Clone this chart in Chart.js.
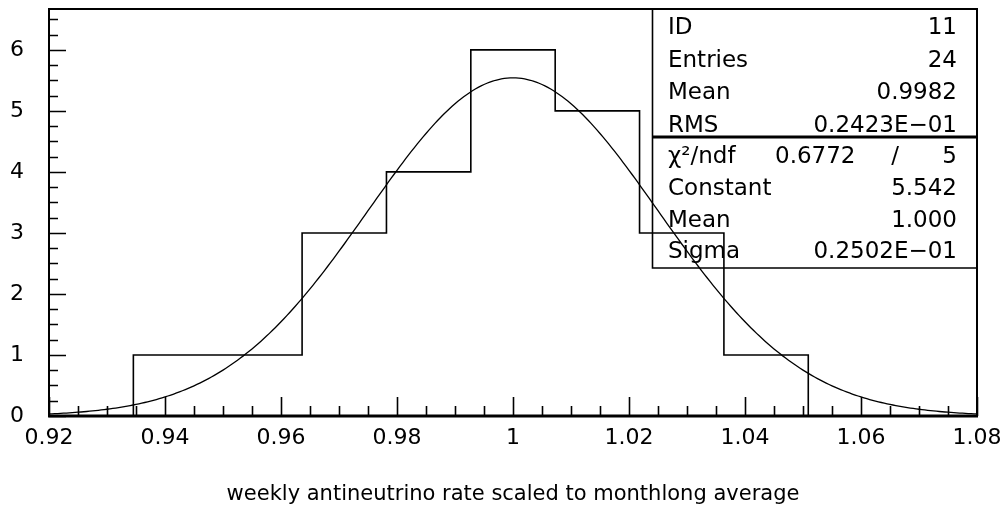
<!DOCTYPE html>
<html>
<head>
<meta charset="utf-8">
<script src="https://cdn.jsdelivr.net/npm/chart.js@4.4.1/dist/chart.umd.min.js"></script>
<style>
  html, body { margin: 0; padding: 0; background: #ffffff; }
  #wrap { position: relative; width: 1008px; height: 507px; }
</style>
</head>
<body>
<div id="wrap"><canvas id="hist"></canvas></div>
<script>
// Histogram 11: weekly antineutrino rate scaled to the monthlong average
const histLow = 0.92;
const histHigh = 1.08;
const nBins = 11;
const binCounts = [0, 1, 1, 3, 4, 6, 5, 3, 1, 0, 0];

// Gaussian fit parameters
const fitConstant = 5.542;
const fitMean = 1.000;
const fitSigma = 0.02502;

// Axis tick labels
const xTickValues = [0.92, 0.94, 0.96, 0.98, 1.00, 1.02, 1.04, 1.06, 1.08];
const yTickValues = [0, 1, 2, 3, 4, 5, 6];
const xMinorStep = 0.005;
const yMinorStep = 0.25;
const yTop = 6.67;

// Statistics box
const statsRows = [["ID", "11"], ["Entries", "24"], ["Mean", "0.9982"], ["RMS", "0.2423E\u221201"]];
const chiRow = ["\u03C7\u00B2/ndf", "0.6772", "/", "5"];
const fitRows = [["Constant", "5.542"], ["Mean", "1.000"], ["Sigma", "0.2502E\u221201"]];

const xTitle = "weekly antineutrino rate scaled to monthlong average";

const FONT = "'DejaVu Sans', 'Liberation Sans', sans-serif";

// step outline of the histogram: left edge of each bin, then the upper edge
const binWidth = (histHigh - histLow) / nBins;
const histPoints = binCounts.map((c, i) => ({ x: histLow + i * binWidth, y: c }));
histPoints.push({ x: histHigh, y: 0 });

// fitted gaussian sampled across the axis range
const curvePoints = [];
const nSamples = 320;
for (let i = 0; i <= nSamples; i++) {
  const x = histLow + (histHigh - histLow) * i / nSamples;
  const z = (x - fitMean) / fitSigma;
  curvePoints.push({ x: x, y: fitConstant * Math.exp(-0.5 * z * z) });
}

const framePlugin = {
  id: 'frameAndStats',
  afterDatasetsDraw(chart) {
    const ctx = chart.ctx;
    const a = chart.chartArea;
    const xs = chart.scales.x, ys = chart.scales.y;
    ctx.save();
    ctx.strokeStyle = '#000';
    ctx.lineCap = 'butt';

    // inward tick marks on the x axis
    ctx.lineWidth = 1.6;
    ctx.beginPath();
    const nx = Math.round((histHigh - histLow) / xMinorStep);
    for (let i = 0; i <= nx; i++) {
      const v = histLow + i * xMinorStep;
      const px = Math.round(xs.getPixelForValue(v)) + 0.5;
      const len = (i % 4 === 0) ? 19 : 10;
      ctx.moveTo(px, a.bottom);
      ctx.lineTo(px, a.bottom - len);
    }
    // inward tick marks on the y axis
    const ny = Math.floor(yTop / yMinorStep + 1e-9);
    for (let i = 0; i <= ny; i++) {
      const v = i * yMinorStep;
      const py = Math.round(ys.getPixelForValue(v)) + 0.5;
      const len = (i % 4 === 0) ? 17 : 9;
      ctx.moveTo(a.left, py);
      ctx.lineTo(a.left + len, py);
    }
    ctx.stroke();

    // frame
    ctx.lineWidth = 2;
    ctx.strokeRect(a.left, a.top, a.right - a.left, a.bottom - a.top);
    ctx.lineWidth = 3;
    ctx.beginPath();
    ctx.moveTo(a.left - 1, a.bottom);
    ctx.lineTo(a.right + 1, a.bottom);
    ctx.stroke();

    // statistics box
    const bl = 652.5, br = a.right, bt = a.top, bm = 137, bb = 268;
    ctx.lineWidth = 1.6;
    ctx.beginPath();
    ctx.moveTo(bl, bt); ctx.lineTo(bl, bb); ctx.lineTo(br, bb);
    ctx.stroke();
    ctx.lineWidth = 3;
    ctx.beginPath();
    ctx.moveTo(bl, bm); ctx.lineTo(br, bm);
    ctx.stroke();

    ctx.fillStyle = '#000';
    ctx.font = '23px ' + FONT;
    ctx.textBaseline = 'middle';
    const tl = 668, tr = 957;
    statsRows.forEach((r, i) => {
      const y = bt + 19.5 + i * 32.5;
      ctx.textAlign = 'left'; ctx.fillText(r[0], tl, y);
      ctx.textAlign = 'right'; ctx.fillText(r[1], tr, y);
    });
    const y0 = 157;
    ctx.textAlign = 'left';
    ctx.fillText(chiRow[0], tl, y0);
    ctx.fillText(chiRow[1], 775, y0);
    ctx.textAlign = 'center';
    ctx.fillText(chiRow[2], 895, y0);
    ctx.textAlign = 'right';
    ctx.fillText(chiRow[3], tr, y0);
    fitRows.forEach((r, i) => {
      const y = y0 + (i + 1) * 31.8;
      ctx.textAlign = 'left'; ctx.fillText(r[0], tl, y);
      ctx.textAlign = 'right'; ctx.fillText(r[1], tr, y);
    });
    ctx.restore();
  }
};

new Chart(document.getElementById('hist'), {
  type: 'line',
  data: {
    datasets: [
      {
        data: histPoints,
        stepped: 'before',
        borderColor: '#000',
        borderWidth: 1.6,
        pointRadius: 0,
        fill: false,
        tension: 0
      },
      {
        data: curvePoints,
        borderColor: '#000',
        borderWidth: 1.3,
        pointRadius: 0,
        fill: false,
        tension: 0
      }
    ]
  },
  options: {
    responsive: true,
    maintainAspectRatio: false,
    animation: false,
    parsing: false,
    normalized: true,
    layout: { padding: { top: 9, right: 31, left: 0, bottom: 0 } },
    plugins: { legend: { display: false }, tooltip: { enabled: false } },
    scales: {
      x: {
        type: 'linear',
        min: histLow,
        max: histHigh,
        afterBuildTicks: s => { s.ticks = xTickValues.map(v => ({ value: v })); },
        afterFit: s => { s.height = 91; s.paddingLeft = 0; s.paddingRight = 0; },
        grid: { display: false, drawTicks: false },
        border: { display: false },
        ticks: {
          color: '#000',
          font: { family: FONT, size: 22 },
          padding: 9,
          maxRotation: 0,
          autoSkip: false,
          callback: v => String(Number(v.toFixed(2)))
        },
        title: {
          display: true,
          text: xTitle,
          color: '#000',
          font: { family: FONT, size: 21 },
          padding: { top: 0, bottom: 0 }
        }
      },
      y: {
        type: 'linear',
        min: 0,
        max: yTop,
        afterBuildTicks: s => { s.ticks = yTickValues.map(v => ({ value: v })); },
        afterFit: s => { s.width = 49; s.paddingTop = 0; s.paddingBottom = 0; },
        grid: { display: false, drawTicks: false },
        border: { display: false },
        ticks: {
          color: '#000',
          font: { family: FONT, size: 22 },
          padding: 25,
          callback: v => String(v)
        }
      }
    }
  },
  plugins: [framePlugin]
});
</script>
</body>
</html>
